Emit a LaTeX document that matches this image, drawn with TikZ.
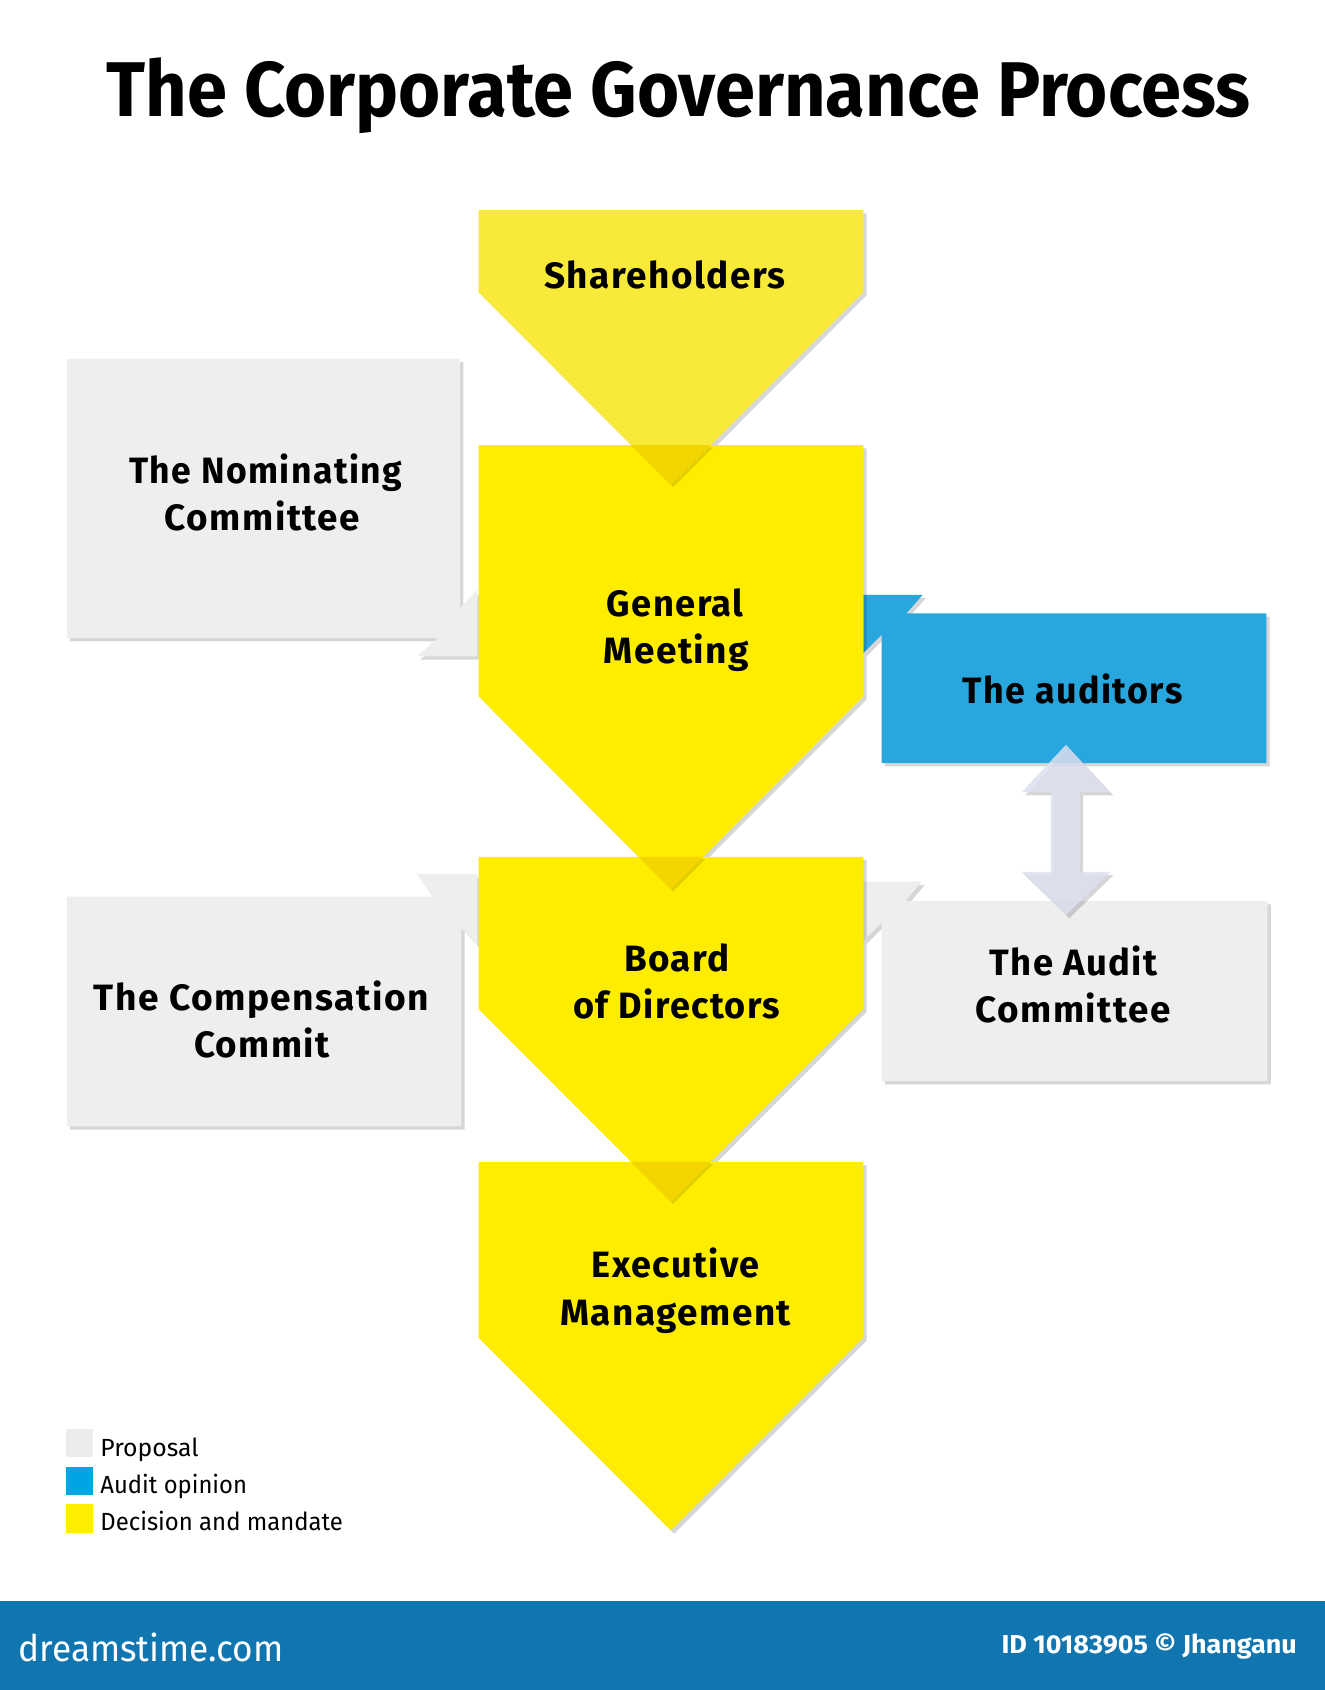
\documentclass[tikz,border=0pt]{standalone}
\usepackage{fontspec}
\setmainfont{Fira Sans}
\usetikzlibrary{shadows}
\definecolor{yelA}{RGB}{249,234,58}
\definecolor{yelB}{RGB}{255,237,0}
\definecolor{yelOv}{RGB}{243,214,0}
\definecolor{boxgrey}{RGB}{238,238,238}
\definecolor{audblue}{RGB}{40,167,223}
\definecolor{arrowlav}{RGB}{222,224,240}
\definecolor{barblue}{RGB}{17,118,175}
\definecolor{legblue}{RGB}{0,166,228}
\definecolor{leggrey}{RGB}{236,236,236}
\newcommand\fitw[2]{\resizebox{#1pt}{\height}{#2}}
\tikzset{
  shad/.style={drop shadow={shadow xshift=3pt,shadow yshift=-3pt,opacity=0.16,fill=black}},
  boxtxt/.style={anchor=base,inner sep=0pt,font=\fontsize{34}{40}\selectfont\bfseries\addfontfeature{LetterSpace=4}},
  titletxt/.style={anchor=base,inner sep=0pt,font=\fontsize{72}{80}\selectfont\bfseries},
  legtxt/.style={anchor=base west,inner sep=0pt,font=\fontsize{23}{26}\selectfont},
  footL/.style={anchor=base west,inner sep=0pt,text=white,font=\fontsize{34}{38}\selectfont},
  footR/.style={anchor=base west,inner sep=0pt,text=white,font=\fontsize{24}{28}\selectfont\bfseries},
}
\begin{document}
\begin{tikzpicture}[x=1pt,y=-1pt]
\useasboundingbox (0,0) rectangle (1229,1568);
\fill[white] (0,0) rectangle (1229,1568);

% grey proposal boxes with tabs
\fill[boxgrey,shad] (62,333) -- (427,333) -- (427,564) -- (443,547) -- (443,609) -- (387,609) -- (406,592) -- (62,592) -- cycle;
\fill[boxgrey,shad] (62,832) -- (401,832) -- (387,811) -- (443,811) -- (443,878) -- (428,861) -- (428,1045) -- (62,1045) -- cycle;
\fill[boxgrey,shad] (801,818) -- (855,818) -- (840,836) -- (1176,836) -- (1176,1003) -- (818,1003) -- (818,856) -- (801,873) -- cycle;
% auditors
\fill[audblue,shad] (801,552) -- (856,552) -- (841,569) -- (1175,569) -- (1175,708) -- (818,708) -- (818,589) -- (801,606) -- cycle;

% yellow pentagons
\fill[yelA,shad] (444,195) -- (801,195) -- (801,271) -- (622.5,450) -- (444,271) -- cycle;
\fill[yelB,shad] (444,413) -- (801,413) -- (801,646) -- (622.5,825) -- (444,646) -- cycle;
\fill[yelB,shad] (444,795) -- (801,795) -- (801,936) -- (622.5,1115) -- (444,936) -- cycle;
\fill[yelB,shad] (444,1078) -- (801,1078) -- (801,1241) -- (622.5,1420) -- (444,1241) -- cycle;
% overlaps
\fill[yelOv,drop shadow={shadow xshift=2pt,shadow yshift=-2pt,opacity=0.12,fill=black}] (585.5,413) -- (659.5,413) -- (622.5,450) -- cycle;
\fill[yelOv,drop shadow={shadow xshift=2pt,shadow yshift=-2pt,opacity=0.12,fill=black}] (592.5,795) -- (652.5,795) -- (622.5,825) -- cycle;
\fill[yelOv,drop shadow={shadow xshift=2pt,shadow yshift=-2pt,opacity=0.12,fill=black}] (585.5,1078) -- (659.5,1078) -- (622.5,1115) -- cycle;

% double arrow
\fill[arrowlav,fill opacity=0.85,shad] (989,691) -- (1030,735) -- (1002,735) -- (1002,809) -- (1030,809) -- (989,849) -- (948,809) -- (975,809) -- (975,735) -- (948,735) -- cycle;

% texts
\node[titletxt] (title) at (629.5,108) {\fitw{1061}{The Corporate Governance Process}};
\node[boxtxt] (sh) at (617,268) {\fitw{224}{Shareholders}};
\node[boxtxt] (gmA) at (626.5,572) {\fitw{127}{General}};
\node[boxtxt] (gmB) at (627.5,616) {\fitw{135}{Meeting}};
\node[boxtxt] (bdA) at (628,901) {\fitw{98}{Board}};
\node[boxtxt] (bdB) at (628,945) {\fitw{192}{of Directors}};
\node[boxtxt] (exA) at (627,1185) {\fitw{156}{Executive}};
\node[boxtxt] (exB) at (627,1230) {\fitw{214}{Management}};
\node[boxtxt] (nomA) at (246.5,449) {\fitw{253}{The Nominating}};
\node[boxtxt] (nomB) at (243.5,492) {\fitw{181}{Committee}};
\node[boxtxt] (aud) at (995,653) {\fitw{204}{The auditors}};
\node[boxtxt] (cmpA) at (242.5,938) {\fitw{311}{The Compensation}};
\node[boxtxt] (cmpB) at (243,981) {\fitw{126}{Commit}};
\node[boxtxt] (acA) at (996,905) {\fitw{156}{The Audit}};
\node[boxtxt] (acB) at (995.5,949) {\fitw{181}{Committee}};

% legend
\fill[leggrey] (61,1326) rectangle (86,1352);
\fill[legblue] (61,1361) rectangle (86,1387);
\fill[yelB] (61,1395) rectangle (86,1422);
\node[legtxt] (lgA) at (93,1351) {\fitw{91}{Proposal}};
\node[legtxt] (lgB) at (93,1386) {\fitw{136}{Audit opinion}};
\node[legtxt] (lgC) at (93,1420) {\fitw{225}{Decision and mandate}};

% footer
\fill[barblue] (0,1485) rectangle (1229,1568);
\node[footL] (ftA) at (17,1542) {\fitw{246}{dreamstime.com}};
\node[footR] (ftB) at (929,1534) {\fitw{274}{ID 10183905 © Jhanganu}};
\end{tikzpicture}
\end{document}
